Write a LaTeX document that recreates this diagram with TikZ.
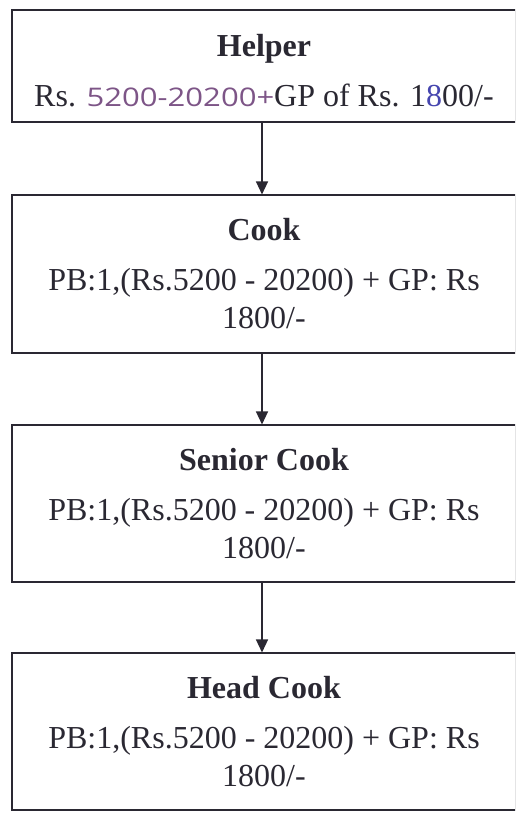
\documentclass[tikz,border=0pt]{standalone}
\usepackage{fontspec}
\usepackage{graphicx}
\setmainfont{Liberation Serif}
\newfontfamily\handfont{Open Sans}
\usetikzlibrary{arrows.meta}
\definecolor{ink}{RGB}{42,40,50}
\definecolor{penpurple}{RGB}{125,85,135}
\definecolor{penblue}{RGB}{70,70,175}
\newcommand{\handnum}[1]{{\handfont\fontsize{27}{38}\selectfont\color{penpurple}\scalebox{1.15}[0.95]{#1}}}

\begin{document}
\begin{tikzpicture}[x=1pt, y=-1pt,
    post/.style={draw=ink, line width=1.1pt, text=ink, align=center,
      minimum width=504pt, inner sep=0pt,
      font=\fontsize{32}{38}\selectfont},
    promote/.style={draw=ink, line width=1.4pt,
      -{Triangle[length=13pt,width=12pt]}},
  ]
  \useasboundingbox (0,0) rectangle (515,813);
  \clip (0,0) rectangle (515,813);

  \node [post, minimum height=112pt] at (264,66) (helper)
    {\rule{0pt}{31pt}\textbf{Helper}\\[12pt]Rs. \handnum{5200-20200+}GP of Rs. 1{\color{penblue}8}00/-};
  \node [post, minimum height=158pt] at (264,274) (cook)
    {\textbf{Cook}\\[12pt]PB:1,(Rs.5200 - 20200) + GP: Rs\\1800/-};
  \node [post, minimum height=157pt] at (264,503.5) (seniorcook)
    {\textbf{Senior Cook}\\[12pt]PB:1,(Rs.5200 - 20200) + GP: Rs\\1800/-};
  \node [post, minimum height=157pt] at (264,731.5) (headcook)
    {\textbf{Head Cook}\\[12pt]PB:1,(Rs.5200 - 20200) + GP: Rs\\1800/-};

  % promotion line
  \draw [promote] ([xshift=-2pt]helper.south) -- ([xshift=-2pt]cook.north);
  \draw [promote] ([xshift=-2pt]cook.south) -- ([xshift=-2pt]seniorcook.north);
  \draw [promote] ([xshift=-2pt]seniorcook.south) -- ([xshift=-2pt]headcook.north);
\end{tikzpicture}
\end{document}
